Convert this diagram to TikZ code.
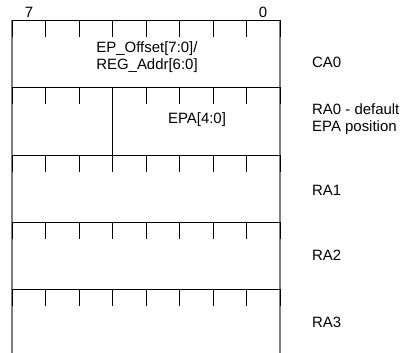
\documentclass[tikz,border=0pt]{standalone}
\usepackage{fontspec}
\setmainfont{Liberation Sans}
\begin{document}
\begin{tikzpicture}[x=1bp,y=-1bp,
  txt/.style={inner sep=0pt,font=\fontsize{15}{17}\selectfont,align=left},
  ctxt/.style={inner sep=0pt,font=\fontsize{15}{17}\selectfont,align=center},
  hline/.style={black,line width=0.9bp},
  edge/.style={draw={rgb,255:red,125;green,125;blue,125},line width=1.3bp},
  tick/.style={black,line width=0.9bp}]
\useasboundingbox (0,0) rectangle (400,353);
% outer vertical edges
\draw[edge] (12,20) -- (12,356);
\draw[edge] (280,20) -- (280,356);
% horizontal lines and ticks
\foreach \y in {20,87,155,222,289}{
  \draw[hline] (12,\y) -- (280,\y);
  \foreach \k in {0,...,8}{
    \draw[tick] ({12+33.5*\k},\y) -- ({12+33.5*\k},\y+17);
  }
}
% RA0 divider
\draw[tick] (112.5,87) -- (112.5,155);
% bit numbers
\node[ctxt] (b7) at (29,12) {7};
\node[ctxt] (b0) at (263,12) {0};
% field texts
\node[ctxt] (epo) at (147,57.5) {EP\_Offset[7:0]/\\REG\_Addr[6:0]};
\node[ctxt] (epa) at (197,120) {EPA[4:0]};
% row labels
\node[txt,anchor=west] (ca0) at (312,62) {CA0};
\node[txt,anchor=west] (ra0) at (312,119) {RA0 - default\\EPA position};
\node[txt,anchor=west] (ra1) at (312,190) {RA1};
\node[txt,anchor=west] (ra2) at (312,255) {RA2};
\node[txt,anchor=west] (ra3) at (312,322) {RA3};
\end{tikzpicture}
\end{document}
